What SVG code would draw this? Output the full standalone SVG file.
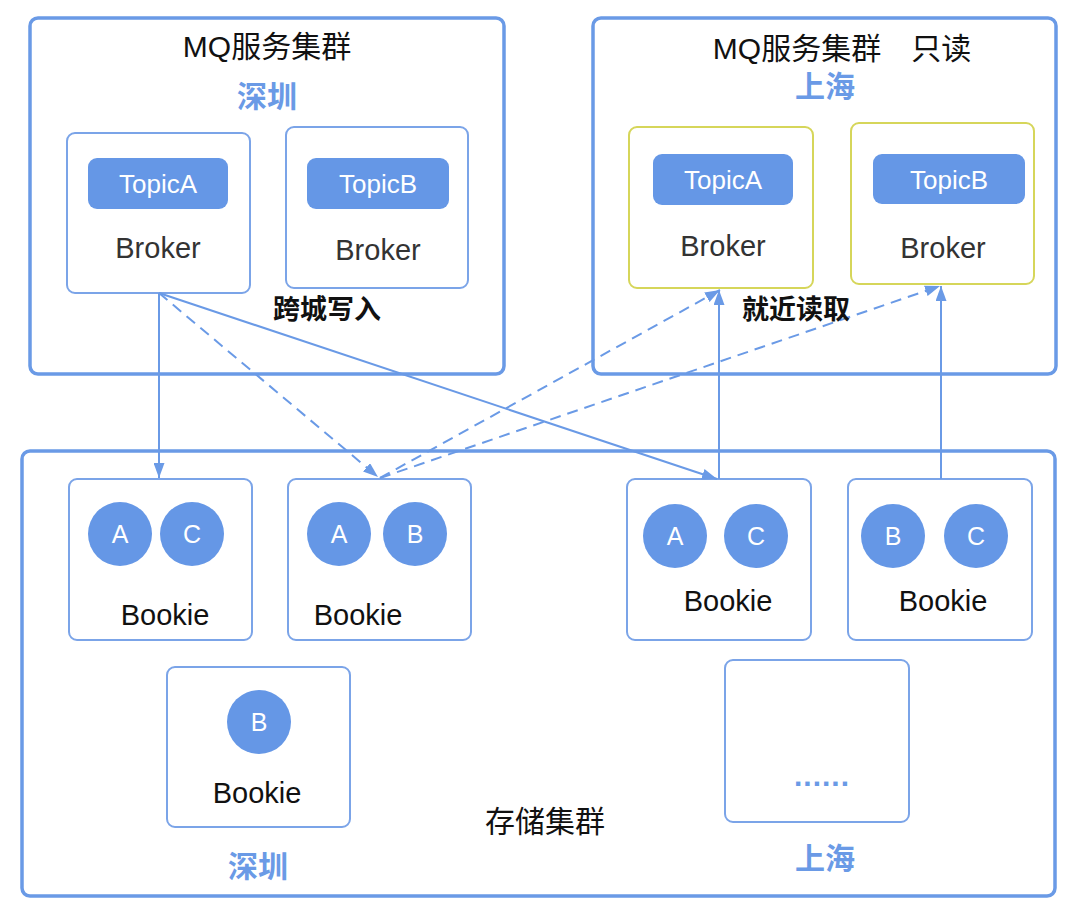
<svg xmlns="http://www.w3.org/2000/svg" width="1080" height="922" viewBox="0 0 1080 922">
<defs>
<style>
.outer{fill:none;stroke:#6a9ae6;stroke-width:3.5}
.box{fill:#fff;stroke:#7ba4e8;stroke-width:2}
.ybox{fill:#fff;stroke:#d6d65a;stroke-width:2}
.pill{fill:#6597e6}
.circ{fill:#6597e6}
.t{font-family:"Liberation Sans","Noto Sans CJK SC",sans-serif;text-anchor:middle}
.title{font-size:30px;fill:#111}
.city{font-size:30px;fill:#6a9ae6;font-weight:bold}
.lbl{font-size:27px;fill:#111;font-weight:bold}
.broker{font-size:29px;fill:#333}
.topic{font-size:26px;fill:#fff}
.bookie{font-size:29px;fill:#111}
.letter{font-size:25px;fill:#fff}
.con{fill:none;stroke:#6a9ae6;stroke-width:2}
.dash{stroke-dasharray:11 7}
</style>
<marker id="arr" viewBox="0 0 15 11" refX="15" refY="5.5" markerWidth="15" markerHeight="11" markerUnits="userSpaceOnUse" orient="auto">
<path d="M0,0 L15,5.5 L0,11 z" fill="#6a9ae6"/>
</marker>
</defs>
<rect width="1080" height="922" fill="#fff"/>

<g id="cluster-sz">
<rect class="outer" x="30" y="18" width="474" height="356" rx="8"/>
<text class="t title" x="267" y="57">MQ服务集群</text>
<text class="t city" x="267" y="107">深圳</text>
</g>
<g id="cluster-sh">
<rect class="outer" x="593" y="18" width="463" height="356" rx="8"/>
<text class="t title" x="842" y="59">MQ服务集群　只读</text>
<text class="t city" x="825" y="97">上海</text>
</g>
<g id="storage">
<rect class="outer" x="22" y="451" width="1033" height="445" rx="8"/>
<text class="t title" x="545" y="832">存储集群</text>
<text class="t city" x="258" y="877">深圳</text>
<text class="t city" x="825" y="869">上海</text>
</g>

<g id="broker-sz-a">
<rect class="box" x="67" y="133" width="183" height="160" rx="8"/>
<rect class="pill" x="88" y="158" width="140" height="51" rx="9"/>
<text class="t topic" x="158" y="193">TopicA</text>
<text class="t broker" x="158" y="258">Broker</text>
</g>
<g id="broker-sz-b">
<rect class="box" x="286" y="127" width="182" height="161" rx="8"/>
<rect class="pill" x="307" y="158" width="142" height="51" rx="9"/>
<text class="t topic" x="378" y="193">TopicB</text>
<text class="t broker" x="378" y="260">Broker</text>
</g>
<g id="broker-sh-a">
<rect class="ybox" x="629" y="127" width="184" height="161" rx="8"/>
<rect class="pill" x="653" y="154" width="140" height="51" rx="9"/>
<text class="t topic" x="723" y="189">TopicA</text>
<text class="t broker" x="723" y="256">Broker</text>
</g>
<g id="broker-sh-b">
<rect class="ybox" x="851" y="123" width="183" height="161" rx="8"/>
<rect class="pill" x="873" y="154" width="152" height="50" rx="9"/>
<text class="t topic" x="949" y="189">TopicB</text>
<text class="t broker" x="943" y="258">Broker</text>
</g>

<g id="bookie-1">
<rect class="box" x="69" y="479" width="183" height="161" rx="8"/>
<circle class="circ" cx="120" cy="534" r="32"/>
<circle class="circ" cx="192" cy="534" r="32"/>
<text class="t letter" x="120" y="543">A</text>
<text class="t letter" x="192" y="543">C</text>
<text class="t bookie" x="165" y="625">Bookie</text>
</g>
<g id="bookie-2">
<rect class="box" x="288" y="479" width="183" height="161" rx="8"/>
<circle class="circ" cx="339" cy="534" r="32"/>
<circle class="circ" cx="415" cy="534" r="32"/>
<text class="t letter" x="339" y="543">A</text>
<text class="t letter" x="415" y="543">B</text>
<text class="t bookie" x="358" y="625">Bookie</text>
</g>
<g id="bookie-3">
<rect class="box" x="627" y="479" width="184" height="161" rx="8"/>
<circle class="circ" cx="675" cy="536" r="32"/>
<circle class="circ" cx="756" cy="536" r="32"/>
<text class="t letter" x="675" y="545">A</text>
<text class="t letter" x="756" y="545">C</text>
<text class="t bookie" x="728" y="611">Bookie</text>
</g>
<g id="bookie-4">
<rect class="box" x="848" y="479" width="184" height="161" rx="8"/>
<circle class="circ" cx="893" cy="536" r="32"/>
<circle class="circ" cx="976" cy="536" r="32"/>
<text class="t letter" x="893" y="545">B</text>
<text class="t letter" x="976" y="545">C</text>
<text class="t bookie" x="943" y="611">Bookie</text>
</g>
<g id="bookie-5">
<rect class="box" x="167" y="667" width="183" height="160" rx="8"/>
<circle class="circ" cx="259" cy="722" r="32"/>
<text class="t letter" x="259" y="731">B</text>
<text class="t bookie" x="257" y="803">Bookie</text>
</g>
<g id="bookie-more">
<rect class="box" x="725" y="660" width="184" height="162" rx="8"/>
<text class="t" x="822" y="786" style="font-size:30px;fill:#6a9ae6;font-weight:bold;letter-spacing:1px">......</text>
</g>

<g id="connectors">
<line class="con" x1="159" y1="293" x2="159" y2="478" marker-end="url(#arr)"/>
<line class="con dash" x1="159" y1="293" x2="378" y2="477" marker-end="url(#arr)"/>
<line class="con" x1="159" y1="293" x2="717" y2="479" marker-end="url(#arr)"/>
<line class="con dash" x1="380" y1="478" x2="720" y2="290" marker-end="url(#arr)"/>
<line class="con dash" x1="380" y1="478" x2="940" y2="286" marker-end="url(#arr)"/>
<line class="con" x1="719" y1="479" x2="719" y2="290" marker-end="url(#arr)"/>
<line class="con" x1="941" y1="479" x2="941" y2="286" marker-end="url(#arr)"/>
<text class="t lbl" x="327" y="319">跨城写入</text>
<text class="t lbl" x="796" y="319">就近读取</text>
</g>
</svg>
